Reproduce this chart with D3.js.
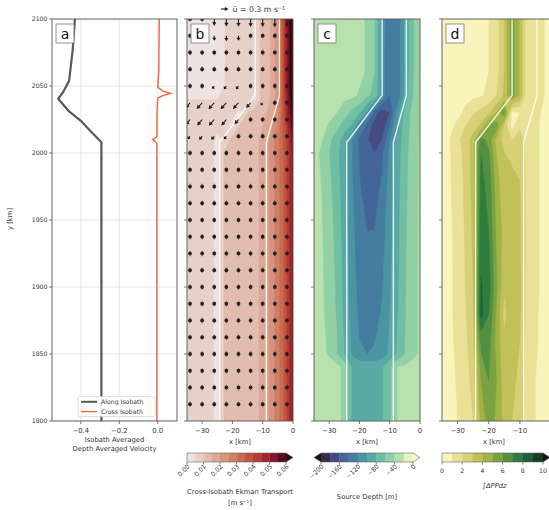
<!DOCTYPE html>
<html><head><meta charset="utf-8">
<script src="https://cdn.jsdelivr.net/npm/d3@7"></script>
<style>
body{margin:0;background:#fff}
svg{font-family:"DejaVu Sans",sans-serif}
</style>
</head><body>
<svg id="fig" width="549" height="510"></svg>
<script>
// ---------- data ----------
// panel a: isobath-averaged, depth-averaged velocity [m s^-1] against y [km]
const alongY = [2100, 2076, 2054, 2045, 2040.5, 2031, 2024, 2016, 2008, 2000, 1800];
const alongV = [-0.431, -0.443, -0.461, -0.494, -0.518, -0.461, -0.400, -0.348, -0.293, -0.293, -0.293];
const crossY = [2100, 2060, 2049, 2046, 2044.5, 2043, 2041, 2030, 2012, 2010, 2008.5, 2007, 2000, 1800];
const crossV = [0.008, 0.005, 0.0, 0.03, 0.067, 0.03, 0.0, -0.004, -0.005, -0.027, -0.012, -0.005, -0.005, -0.005];

// isobaths drawn over panels b-d
const isoY = [2100, 2043, 2008, 1800];
const isoDeepX = [-12.5, -12.5, -24.2, -24.2];
const isoShallowX = [-4.5, -4.5, -8.8, -8.8];

// cross-shore grid shared by the gridded fields [km]
const fieldX = [-35, -32.5, -30, -27.5, -25, -22.5, -20, -17.5, -15, -12.5, -10, -7.5, -5, -2.5, 0];

// panel b: cross-isobath Ekman transport [m s^-1]
const ekmanY = [1800, 2000, 2010, 2020, 2030, 2040, 2050, 2100];
const ekman = [
  [0.009,0.009,0.008,0.007,0.003,0.011,0.012,0.013,0.013,0.014,0.016,0.021,0.028,0.037,0.052],
  [0.009,0.009,0.008,0.007,0.003,0.011,0.012,0.013,0.013,0.014,0.016,0.021,0.028,0.037,0.052],
  [0.008,0.008,0.008,0.007,0.004,0.006,0.012,0.013,0.013,0.014,0.016,0.021,0.028,0.038,0.054],
  [0.007,0.007,0.007,0.007,0.006,0.006,0.004,0.011,0.013,0.014,0.015,0.018,0.026,0.040,0.058],
  [0.006,0.006,0.006,0.006,0.006,0.006,0.006,0.004,0.010,0.013,0.014,0.016,0.024,0.042,0.062],
  [0.005,0.005,0.005,0.005,0.005,0.005,0.005,0.006,0.006,0.004,0.013,0.015,0.022,0.044,0.066],
  [0.004,0.004,0.004,0.004,0.004,0.005,0.005,0.006,0.007,0.005,0.013,0.015,0.022,0.045,0.068],
  [0.004,0.004,0.004,0.004,0.004,0.005,0.005,0.006,0.007,0.005,0.013,0.015,0.022,0.045,0.068]
];
const ekmanLevels = [0, 0.005, 0.01, 0.015, 0.02, 0.025, 0.03, 0.035, 0.04, 0.045, 0.05, 0.055, 0.06];
const ekmanTicks = [0, 0.01, 0.02, 0.03, 0.04, 0.05, 0.06];

// panel b: velocity vectors [m s^-1]
const quiverX = [-34, -30, -26, -22, -18, -14, -10, -6, -2];
const quiverY = [1812.5, 1825, 1837.5, 1850, 1862.5, 1875, 1887.5, 1900, 1912.5, 1925, 1937.5, 1950,
                 1962.5, 1975, 1987.5, 2000, 2012.5, 2025, 2037.5, 2050, 2062.5, 2075, 2087.5, 2100];
const calm = [0, 0, 0, 0, 0, 0, 0, 0, 0];
const drift = [-0.04, -0.04, -0.04, -0.04, -0.04, -0.04, -0.04, -0.04, -0.04];
const quiverU = [
  calm, calm, calm, calm, calm, calm, calm, calm, calm, calm, calm, calm, calm, calm, calm, calm,
  [-0.10,-0.12,-0.12,-0.10,-0.05,-0.02,0,0,0],
  [-0.18,-0.20,-0.22,-0.20,-0.16,-0.07,-0.02,0,0],
  [-0.18,-0.22,-0.23,-0.23,-0.22,-0.18,-0.08,-0.03,0],
  [-0.02,-0.03,-0.08,-0.10,-0.10,-0.05,-0.01,0,0],
  calm, calm, calm, calm
];
const quiverV = [
  drift, drift, drift, drift, drift, drift, drift, drift, drift, drift, drift, drift, drift, drift, drift, drift,
  [-0.12,-0.14,-0.14,-0.12,-0.07,-0.04,-0.04,-0.04,-0.04],
  [-0.22,-0.24,-0.25,-0.24,-0.19,-0.09,-0.04,-0.04,-0.04],
  [-0.22,-0.25,-0.26,-0.26,-0.25,-0.21,-0.10,-0.05,-0.04],
  [-0.04,-0.05,-0.12,-0.13,-0.13,-0.07,-0.04,-0.04,-0.04],
  [-0.05,-0.05,-0.05,-0.05,-0.05,-0.05,-0.05,-0.05,-0.05],
  drift,
  [-0.04,-0.05,-0.20,-0.22,-0.20,-0.07,-0.04,-0.04,-0.04],
  [-0.05,-0.07,-0.28,-0.30,-0.31,-0.32,-0.32,-0.33,-0.33]
];
const keySpeed = 0.3;

// panel c: source depth [m]
const depthY = [1800, 1840, 1850, 1880, 1930, 1970, 2000, 2010, 2020, 2030, 2043, 2060, 2100];
const depth = [
  [-32,-32,-32,-34,-45,-82,-84,-84,-84,-82,-64,-40,-36,-34,-32],
  [-32,-32,-32,-34,-45,-82,-84,-84,-84,-82,-64,-40,-36,-34,-32],
  [-33,-36,-42,-58,-80,-102,-118,-120,-118,-112,-95,-78,-60,-45,-38],
  [-33,-37,-46,-62,-85,-108,-124,-128,-126,-118,-100,-82,-62,-46,-38],
  [-33,-38,-50,-66,-88,-112,-132,-138,-136,-126,-106,-86,-64,-47,-38],
  [-33,-40,-55,-70,-92,-116,-138,-145,-148,-134,-110,-88,-66,-48,-38],
  [-33,-44,-60,-74,-95,-120,-142,-152,-160,-145,-115,-90,-68,-50,-38],
  [-33,-38,-56,-70,-90,-118,-145,-158,-168,-160,-122,-92,-70,-52,-38],
  [-33,-35,-42,-56,-70,-84,-118,-148,-170,-172,-138,-96,-72,-53,-38],
  [-33,-33,-35,-40,-52,-64,-78,-104,-150,-172,-160,-108,-76,-54,-38],
  [-33,-33,-33,-33,-34,-36,-42,-56,-66,-108,-140,-138,-92,-62,-38],
  [-33,-33,-33,-33,-33,-34,-36,-42,-60,-110,-138,-136,-96,-66,-38],
  [-33,-33,-33,-33,-33,-34,-36,-42,-60,-110,-136,-134,-96,-66,-38]
];
const depthLevels = [-200, -180, -160, -140, -120, -100, -80, -60, -40, -20, 0];
const depthTicks = [-200, -160, -120, -80, -40, 0];

// panel d: vertically integrated primary production anomaly
const ppY = [1800, 1830, 1860, 1880, 1900, 1940, 1980, 2000, 2010, 2020, 2030, 2043, 2060, 2100];
const pp = [
  [0.6,0.7,1.0,1.5,2.0,4.2,5.5,4.8,3.6,3.0,2.6,1.3,1.0,0.8,0.5],
  [0.6,0.7,1.1,1.6,2.3,5.0,6.0,5.0,3.4,3.2,2.8,1.3,1.0,0.8,0.5],
  [0.6,0.8,1.2,1.8,2.6,6.4,6.4,4.6,3.2,3.8,3.0,1.4,1.1,0.8,0.5],
  [0.6,0.8,1.3,1.9,2.8,8.3,7.0,4.8,2.6,4.0,3.2,1.5,1.1,0.8,0.5],
  [0.6,0.8,1.3,2.0,3.0,8.1,7.4,5.2,3.2,4.0,3.2,1.5,1.2,0.8,0.5],
  [0.6,0.8,1.4,2.1,3.2,7.6,7.0,4.8,3.6,3.6,3.2,1.6,1.2,0.8,0.5],
  [0.6,0.9,1.5,2.2,3.4,7.3,6.6,4.4,3.2,3.2,3.0,1.6,1.2,0.8,0.5],
  [0.6,0.9,1.6,2.3,3.5,7.0,6.2,4.0,3.0,2.8,2.8,1.6,1.2,0.8,0.5],
  [0.6,1.0,1.8,2.4,3.4,6.4,5.6,3.6,2.6,2.0,2.5,1.6,1.2,0.8,0.5],
  [0.6,0.7,1.3,2.0,2.5,3.2,5.4,5.6,2.6,0.7,1.8,1.8,1.2,0.8,0.5],
  [0.6,0.6,0.7,1.2,1.9,2.3,2.8,4.0,6.0,0.6,1.0,2.0,1.4,0.8,0.5],
  [0.7,0.7,0.7,0.7,0.8,0.9,1.2,2.0,3.2,5.5,3.8,1.0,2.0,1.1,0.5],
  [0.7,0.7,0.7,0.7,0.8,0.9,1.0,1.6,3.0,5.5,3.8,1.0,2.0,1.1,0.5],
  [0.7,0.7,0.7,0.7,0.8,0.9,1.0,1.6,3.0,5.5,3.8,1.0,2.0,1.1,0.5]
];
const ppLevels = [0, 1, 2, 3, 4, 5, 6, 7, 8, 9, 10];
const ppTicks = [0, 2, 4, 6, 8, 10];

const yTicks = [1800, 1850, 1900, 1950, 2000, 2050, 2100];
const velTicks = [-0.4, -0.2, 0.0];
const kmTicks = [-30, -20, -10, 0];
const kmTicksEdge = [-30, -20, -10];

// ---------- colour maps ----------
function ramp(stops) {
  return d3.scaleLinear()
    .domain(stops.map((_, i) => i / (stops.length - 1)))
    .range(stops).interpolate(d3.interpolateRgb).clamp(true);
}
const amp = ramp(["#f1ecec","#e9d6d0","#e2beb1","#dca693","#d58e76","#cd755b","#c45b44","#b73f33","#a1232c","#7c1027","#3c0912"]);
const deep = ramp(["#fdfecc","#cdebb3","#a3d9a6","#7ec8a3","#62b5a3","#4e9fa4","#4589a2","#42719e","#465894","#3f3e6e","#281a2c"]);
const speed = ramp(["#fffdd0","#f0eaa6","#e0d886","#cdc865","#b3b94c","#8fab42","#64993f","#3d8640","#22703c","#195233","#142619"]);

function bandColors(levels, toColor, over) {
  const c = [];
  for (let i = 0; i < levels.length - 1; i++) c.push(toColor((levels[i] + levels[i + 1]) / 2));
  c.push(over);
  return c;
}
const ekmanColors = bandColors(ekmanLevels, v => amp(v / 0.06), "#2e0710");
const depthColors = bandColors(depthLevels, v => deep(-v / 200), "#fdfecc");
const ppColors = bandColors(ppLevels, v => speed(v / 10), "#111a0e");

// ---------- layout ----------
const svg = d3.select("#fig");
const yTop = 19, yBottom = 421;
const y = d3.scaleLinear().domain([1800, 2100]).range([yBottom, yTop]);
const xa = d3.scaleLinear().domain([-0.55, 0.1]).range([52, 177]);
const panelX = {
  b: d3.scaleLinear().domain([-35, 0]).range([187, 293]),
  c: d3.scaleLinear().domain([-35, 0]).range([314, 420]),
  d: d3.scaleLinear().domain([-35, 0]).range([442, 551])
};
const ink = "#333", spine = "#555";
const fs = 6.8;

const defs = svg.append("defs");
function clipFor(id, x0, x1) {
  defs.append("clipPath").attr("id", id).append("rect")
    .attr("x", x0).attr("y", yTop).attr("width", x1 - x0).attr("height", yBottom - yTop);
  return "url(#" + id + ")";
}

function yAxisTicks(x0, labels) {
  const g = svg.append("g");
  g.selectAll("line").data(yTicks).join("line")
    .attr("x1", x0 - 3).attr("x2", x0).attr("y1", d => y(d)).attr("y2", d => y(d))
    .attr("stroke", spine).attr("stroke-width", 0.8);
  if (labels) {
    g.selectAll("text").data(yTicks).join("text")
      .attr("x", x0 - 4.5).attr("y", d => y(d) + 2.3).attr("text-anchor", "end")
      .attr("font-size", 6.2).attr("fill", ink).text(d => d);
  }
}
function xAxisTicks(scale, ticks, fmt) {
  const g = svg.append("g");
  g.selectAll("line").data(ticks).join("line")
    .attr("x1", d => scale(d)).attr("x2", d => scale(d)).attr("y1", yBottom).attr("y2", yBottom + 3)
    .attr("stroke", spine).attr("stroke-width", 0.8);
  g.selectAll("text").data(ticks).join("text")
    .attr("x", d => scale(d)).attr("y", yBottom + 12).attr("text-anchor", "middle")
    .attr("font-size", fs).attr("fill", ink).text(d => fmt(d));
}
function frame(x0, x1) {
  svg.append("rect").attr("x", x0).attr("y", yTop).attr("width", x1 - x0).attr("height", yBottom - yTop)
    .attr("fill", "none").attr("stroke", spine).attr("stroke-width", 0.9);
}
function panelLabel(x0, txt) {
  const g = svg.append("g");
  g.append("rect").attr("x", x0 + 4).attr("y", yTop + 5).attr("width", 18).attr("height", 19)
    .attr("fill", "#fff").attr("stroke", "#777").attr("stroke-width", 0.8);
  g.append("text").attr("x", x0 + 13).attr("y", yTop + 19.5).attr("text-anchor", "middle")
    .attr("font-size", 14).attr("fill", "#111").text(txt);
}

// ---------- panel a ----------
(function () {
  const g = svg.append("g").attr("clip-path", clipFor("clipA", 52, 177));
  g.selectAll("line.gx").data(velTicks).join("line").attr("class", "gx")
    .attr("x1", d => xa(d)).attr("x2", d => xa(d)).attr("y1", yTop).attr("y2", yBottom)
    .attr("stroke", "#dedede").attr("stroke-width", 0.8);
  g.selectAll("line.gy").data(yTicks).join("line").attr("class", "gy")
    .attr("x1", 52).attr("x2", 177).attr("y1", d => y(d)).attr("y2", d => y(d))
    .attr("stroke", "#dedede").attr("stroke-width", 0.8);
  const lineAlong = d3.line().x(i => xa(alongV[i])).y(i => y(alongY[i]));
  const lineCross = d3.line().x(i => xa(crossV[i])).y(i => y(crossY[i]));
  g.append("path").attr("d", lineCross(d3.range(crossY.length)))
    .attr("fill", "none").attr("stroke", "#f4643f").attr("stroke-width", 1.4);
  g.append("path").attr("d", lineAlong(d3.range(alongY.length)))
    .attr("fill", "none").attr("stroke", "#595959").attr("stroke-width", 2.2).attr("stroke-linejoin", "round");

  // legend
  const lg = svg.append("g");
  lg.append("rect").attr("x", 78).attr("y", 396.5).attr("width", 77).attr("height", 20).attr("rx", 2)
    .attr("fill", "#fff").attr("fill-opacity", 0.92).attr("stroke", "#d0d0d0").attr("stroke-width", 0.7);
  [["Along Isobath", "#595959", 2.0], ["Cross Isobath", "#f4643f", 1.4]].forEach((e, i) => {
    const yy = 401.8 + i * 9.8;
    lg.append("line").attr("x1", 81).attr("x2", 97).attr("y1", yy).attr("y2", yy)
      .attr("stroke", e[1]).attr("stroke-width", e[2]);
    lg.append("text").attr("x", 101).attr("y", yy + 2.2).attr("font-size", 6.2).attr("fill", ink).text(e[0]);
  });

  frame(52, 177);
  yAxisTicks(52, true);
  xAxisTicks(xa, velTicks, d3.format(".1f"));
  svg.append("text").attr("x", 114.5).attr("y", 441.5).attr("text-anchor", "middle")
    .attr("font-size", fs).attr("fill", ink).text("Isobath Averaged");
  svg.append("text").attr("x", 114.5).attr("y", 451).attr("text-anchor", "middle")
    .attr("font-size", fs).attr("fill", ink).text("Depth Averaged Velocity");
  svg.append("text").attr("transform", "translate(12,219) rotate(-90)").attr("text-anchor", "middle")
    .attr("font-size", fs).attr("fill", ink).text("y [km]");
  panelLabel(52, "a");
})();

// ---------- gridded fields ----------
function drawField(key, ys, grid, levels, colors) {
  const x = panelX[key];
  const [x0, x1] = x.range();
  const g = svg.append("g").attr("clip-path", clipFor("clip" + key, x0, x1));
  const n = fieldX.length, m = ys.length;
  const ix = d3.scaleLinear().domain(d3.range(n)).range(fieldX.map(x)).clamp(true);
  const iy = d3.scaleLinear().domain(d3.range(m)).range(ys.map(y)).clamp(true);
  const path = d3.geoPath(d3.geoTransform({
    point(px, py) { this.stream.point(ix(px - 0.5), iy(py - 0.5)); }
  }));
  g.append("rect").attr("x", x0).attr("y", yTop).attr("width", x1 - x0).attr("height", yBottom - yTop)
    .attr("fill", colors[0]);
  const bands = d3.contours().size([n, m]).thresholds(levels)(grid.flat());
  g.selectAll("path.band").data(bands).join("path").attr("class", "band")
    .attr("d", path).attr("fill", (d, i) => colors[i])
    .attr("stroke", (d, i) => colors[i]).attr("stroke-width", 0.3);
  // isobaths
  const iso = d3.line().x(d => x(d[0])).y(d => y(d[1]));
  [isoDeepX, isoShallowX].forEach(xs => {
    g.append("path").attr("d", iso(xs.map((v, i) => [v, isoY[i]])))
      .attr("fill", "none").attr("stroke", "#fff").attr("stroke-opacity", 0.85).attr("stroke-width", 1.4);
  });
  return g;
}

function colorbar(key, levels, colors, under, over, extendMin, extendMax, ticks, fmt, rotate, label, bodyEnd) {
  const [x0, x1] = panelX[key].range();
  const tri = 7, cy0 = 453, cy1 = 462;
  const bx0 = extendMin ? x0 + tri : x0, bx1 = bodyEnd || (extendMax ? x1 - tri : x1);
  const tip = extendMax ? bx1 + tri : bx1;
  const s = d3.scaleLinear().domain([levels[0], levels[levels.length - 1]]).range([bx0, bx1]);
  const g = svg.append("g");
  for (let i = 0; i < levels.length - 1; i++) {
    g.append("rect").attr("x", s(levels[i])).attr("y", cy0)
      .attr("width", s(levels[i + 1]) - s(levels[i]) + 0.3).attr("height", cy1 - cy0).attr("fill", colors[i]);
  }
  let outline;
  if (extendMin) {
    g.append("path").attr("d", `M${bx0},${cy0}L${x0},${(cy0 + cy1) / 2}L${bx0},${cy1}Z`).attr("fill", under);
    outline = `M${bx0},${cy0}L${x0},${(cy0 + cy1) / 2}L${bx0},${cy1}`;
  } else outline = `M${bx0},${cy0}L${bx0},${cy1}`;
  if (extendMax) {
    g.append("path").attr("d", `M${bx1},${cy0}L${tip},${(cy0 + cy1) / 2}L${bx1},${cy1}Z`).attr("fill", over);
    outline += `L${bx1},${cy1}L${tip},${(cy0 + cy1) / 2}L${bx1},${cy0}Z`;
  } else outline += `L${bx1},${cy1}L${bx1},${cy0}Z`;
  g.append("path").attr("d", outline).attr("fill", "none").attr("stroke", "#666").attr("stroke-width", 0.6);
  g.selectAll("line.t").data(ticks).join("line").attr("class", "t")
    .attr("x1", d => s(d)).attr("x2", d => s(d)).attr("y1", cy1).attr("y2", cy1 + 2.5)
    .attr("stroke", "#555").attr("stroke-width", 0.7);
  if (rotate) {
    g.selectAll("text.t").data(ticks).join("text").attr("class", "t")
      .attr("transform", d => `translate(${s(d) + 3},${cy1 + 5}) rotate(-45)`)
      .attr("text-anchor", "end").attr("font-size", 6.2).attr("fill", ink).text(d => fmt(d));
  } else {
    g.selectAll("text.t").data(ticks).join("text").attr("class", "t")
      .attr("x", d => s(d)).attr("y", cy1 + 10.5).attr("text-anchor", "middle")
      .attr("font-size", 6.2).attr("fill", ink).text(d => fmt(d));
  }
  const cx = (x0 + Math.min(x1, 547)) / 2;
  label.forEach(l => {
    g.append("text").attr("x", cx).attr("y", l[1]).attr("text-anchor", "middle")
      .attr("font-size", fs).attr("font-style", l[2] || "normal").attr("fill", ink).text(l[0]);
  });
}

// ---------- panel b ----------
(function () {
  const x = panelX.b;
  const g = drawField("b", ekmanY, ekman, ekmanLevels, ekmanColors);
  const k = 25; // px per m s^-1
  function arrow(px, py, dx, dy) {
    const L = Math.hypot(dx, dy);
    if (L < 3) {
      g.append("line").attr("x1", px).attr("x2", px).attr("y1", py - 3).attr("y2", py + 3)
        .attr("stroke", "#2a2a2a").attr("stroke-width", 0.7).attr("stroke-opacity", 0.6);
      g.append("circle").attr("cx", px).attr("cy", py).attr("r", 1.9).attr("fill", "#222");
      return;
    }
    const ex = dx / L, ey = dy / L, nx = -ey, ny = ex;
    const hl = Math.min(3.8, L * 0.6), hw = 2.1, sw = 0.55;
    const bxp = px + ex * (L - hl), byp = py + ey * (L - hl);
    const pts = [
      [px + nx * sw, py + ny * sw], [bxp + nx * sw, byp + ny * sw], [bxp + nx * hw, byp + ny * hw],
      [px + dx, py + dy],
      [bxp - nx * hw, byp - ny * hw], [bxp - nx * sw, byp - ny * sw], [px - nx * sw, py - ny * sw]
    ];
    g.append("path").attr("d", "M" + pts.map(p => p.join(",")).join("L") + "Z").attr("fill", "#1c1c1c");
  }
  quiverY.forEach((yy, j) => {
    quiverX.forEach((xx, i) => {
      arrow(x(xx), y(yy), quiverU[j][i] * k, -quiverV[j][i] * k);
    });
  });
  frame(187, 293);
  yAxisTicks(187, false);
  xAxisTicks(x, kmTicks, d3.format("d"));
  svg.append("text").attr("x", 240).attr("y", 444).attr("text-anchor", "middle")
    .attr("font-size", fs).attr("fill", ink).text("x [km]");
  panelLabel(187, "b");
  // reference vector
  const kx = 221, ky = 9, kl = keySpeed * k;
  svg.append("line").attr("x1", kx).attr("x2", kx + kl - 3).attr("y1", ky).attr("y2", ky)
    .attr("stroke", "#1c1c1c").attr("stroke-width", 1.1);
  svg.append("path").attr("d", `M${kx + kl},${ky}L${kx + kl - 3.6},${ky - 2.1}L${kx + kl - 3.6},${ky + 2.1}Z`)
    .attr("fill", "#1c1c1c");
  svg.append("text").attr("x", kx + kl + 4).attr("y", ky + 2.8).attr("font-size", 7.8).attr("fill", ink)
    .text("ū = " + keySpeed + " m s⁻¹");
  colorbar("b", ekmanLevels, ekmanColors, ekmanColors[0], "#2e0710", false, true,
    ekmanTicks, d3.format(".2f"), true,
    [["Cross-Isobath Ekman Transport", 494], ["[m s⁻¹]", 505]]);
})();

// ---------- panel c ----------
(function () {
  const x = panelX.c;
  drawField("c", depthY, depth, depthLevels, depthColors);
  frame(314, 420);
  yAxisTicks(314, false);
  xAxisTicks(x, kmTicks, d3.format("d"));
  svg.append("text").attr("x", 367).attr("y", 444).attr("text-anchor", "middle")
    .attr("font-size", fs).attr("fill", ink).text("x [km]");
  panelLabel(314, "c");
  colorbar("c", depthLevels, depthColors.slice(0, -1), "#1a1020", "#fdfecc", true, true,
    depthTicks, d3.format("d"), true, [["Source Depth [m]", 499]]);
})();

// ---------- panel d ----------
(function () {
  const x = panelX.d;
  drawField("d", ppY, pp, ppLevels, ppColors);
  frame(442, 551);
  yAxisTicks(442, false);
  xAxisTicks(x, kmTicksEdge, d3.format("d"));
  svg.append("text").attr("x", 494).attr("y", 444).attr("text-anchor", "middle")
    .attr("font-size", fs).attr("fill", ink).text("x [km]");
  panelLabel(442, "d");
  colorbar("d", ppLevels, ppColors, ppColors[0], "#111a0e", false, true,
    ppTicks, d3.format("d"), false, [["∫ΔPPdz", 488, "italic"]], 543);
})();
</script>
</body></html>
